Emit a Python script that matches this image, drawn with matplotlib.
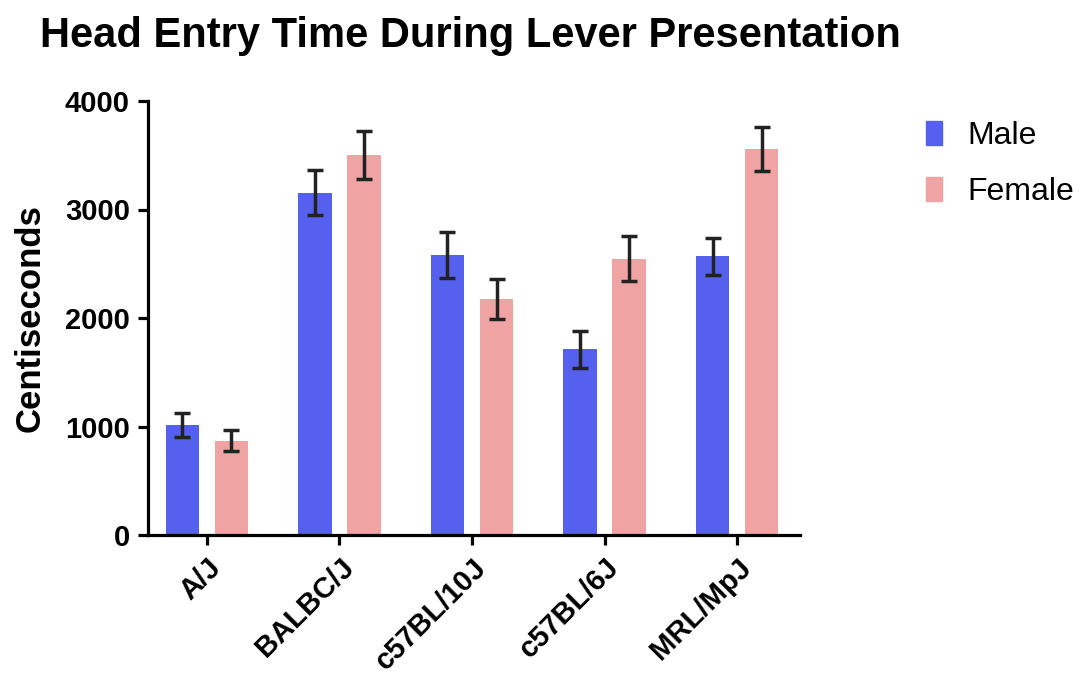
import matplotlib
matplotlib.use("Agg")
import matplotlib.pyplot as plt
import numpy as np
from matplotlib.patches import Patch

categories = ["A/J", "BALBC/J", "c57BL/10J", "c57BL/6J", "MRL/MpJ"]
male = [1010, 3155, 2580, 1713, 2568]
male_err = [110, 210, 215, 170, 172]
female = [870, 3505, 2178, 2548, 3560]
female_err = [100, 220, 185, 205, 203]
yticks = [0, 1000, 2000, 3000, 4000]

blue = "#5560EE"
pink = "#F0A3A3"
errc = "#222222"

plt.rcParams['font.family'] = ['Liberation Sans', 'DejaVu Sans']

fig = plt.figure(figsize=(10.88, 6.88), dpi=100)
ax = fig.add_axes([148/1088, 1-535/688, (800-148)/1088, (535-101)/688])

x = np.arange(len(categories))
w = 0.25
off = 0.185
ax.bar(x - off, male, w, color=blue, zorder=2)
ax.bar(x + off, female, w, color=pink, zorder=2)
ekw = dict(fmt='none', ecolor=errc, elinewidth=2.5, capsize=5.5, capthick=2.5, zorder=3)
ax.errorbar(x - off, male, yerr=male_err, **ekw)
ax.errorbar(x + off, female, yerr=female_err, **ekw)

ax.set_xlim(-0.445, 4.475)
ax.set_ylim(0, 4000)
ax.set_yticks(yticks)
ax.set_yticklabels([str(v) for v in yticks], fontsize=21, fontweight='bold')
ax.set_xticks(x)
ax.set_xticklabels(categories, rotation=45, ha='right', rotation_mode='anchor',
                   fontsize=21, fontweight='bold')
for s in ['top', 'right']:
    ax.spines[s].set_visible(False)
for s in ['left', 'bottom']:
    ax.spines[s].set_linewidth(2.3)
ax.tick_params(axis='both', width=2.3, length=7, direction='out', pad=6)
ax.set_ylabel("Centiseconds", fontsize=25, fontweight='bold')
ax.yaxis.set_label_coords(-0.155, 0.5)

fig.text(40/1088, 1-36/688, "Head Entry Time During Lever Presentation",
         fontsize=30, fontweight='bold', va='center', ha='left')

handles = [Patch(color=blue, label='Male'), Patch(color=pink, label='Female')]
fig.legend(handles=handles, loc='upper left', bbox_to_anchor=(926/1088, 1-121/688),
           frameon=False, fontsize=23, handlelength=0.5, handleheight=0.8,
           handletextpad=0.8, labelspacing=0.8, borderpad=0, borderaxespad=0)

fig.savefig("out.png", dpi=100)
